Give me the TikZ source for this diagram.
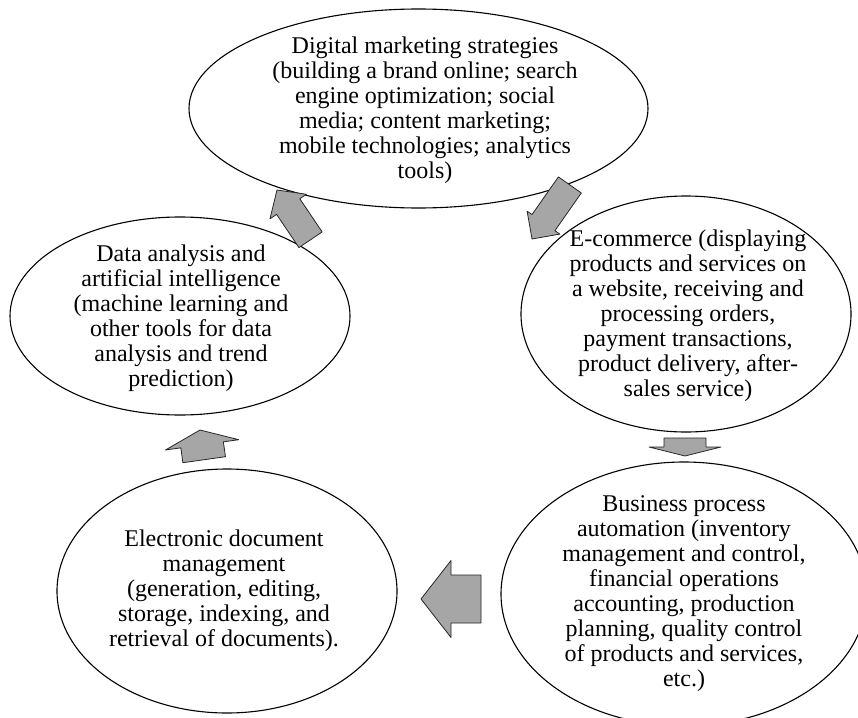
\documentclass[tikz,border=0pt]{standalone}
\usepackage{fontspec}
\setmainfont{Liberation Serif}
\usetikzlibrary{shapes.geometric}
\tikzset{
  bubble/.style={draw, ellipse, line width=1.1pt, inner sep=0pt},
  bubbletext/.style={align=center, inner sep=0pt, font=\fontsize{24}{25}\selectfont},
  arrowbody/.style={draw=black!85, fill=black!35, line width=0.8pt, line join=round}
}
% block arrow: tip, direction, length, head width, shaft width, head length
\newcommand{\flowarrow}[6]{%
  \draw[arrowbody, shift={#1}, rotate=#2] (0pt,0pt) -- ({-#6pt},{#4pt/2}) -- ({-#6pt},{#5pt/2})
    -- ({-#3pt},{#5pt/2}) -- ({-#3pt},{-#5pt/2}) -- ({-#6pt},{-#5pt/2}) -- ({-#6pt},{-#4pt/2}) -- cycle;}
\begin{document}
\begin{tikzpicture}[x=1pt,y=-1pt]
\useasboundingbox (0,0) rectangle (858,717);
% the five bubbles
\node[bubble, minimum width=459pt, minimum height=199pt] (dm) at (418.5,108.5) {};
\node[bubble, minimum width=340pt, minimum height=198pt] (da) at (180,316) {};
\node[bubble, minimum width=330pt, minimum height=236pt] (ec) at (686,314) {};
\node[bubble, minimum width=366pt, minimum height=264pt] (bpa) at (684,594) {};
\node[bubble, minimum width=340pt, minimum height=244pt] (edm) at (227,591) {};
% their texts
\node[bubbletext] (dmtext) at (425,110) {Digital marketing strategies\\(building a brand online; search\\engine optimization; social\\media; content marketing;\\mobile technologies; analytics\\tools)};
\node[bubbletext] (datext) at (181,318) {Data analysis and\\artificial intelligence\\(machine learning and\\other tools for data\\analysis and trend\\prediction)};
\node[bubbletext] (ectext) at (688,316) {E-commerce (displaying\\products and services on\\a website, receiving and\\processing orders,\\payment transactions,\\product delivery, after-\\sales service)};
\node[bubbletext] (bpatext) at (684,594) {Business process\\automation (inventory\\management and control,\\financial operations\\accounting, production\\planning, quality control\\of products and services,\\etc.)};
\node[bubbletext] (edmtext) at (224,591) {Electronic document\\management\\(generation, editing,\\storage, indexing, and\\retrieval of documents).};
% block arrows, placed by their tips
\flowarrow{(532,239)}{235}{66}{40}{28}{20}
\flowarrow{(685,456)}{-90}{18}{72}{42}{9}
\flowarrow{(421,599)}{180}{60}{77}{48}{30}
\flowarrow{(200,430)}{98}{30}{74}{43}{15}
\flowarrow{(277,190)}{124}{60}{44}{28}{20}
\end{tikzpicture}
\end{document}
